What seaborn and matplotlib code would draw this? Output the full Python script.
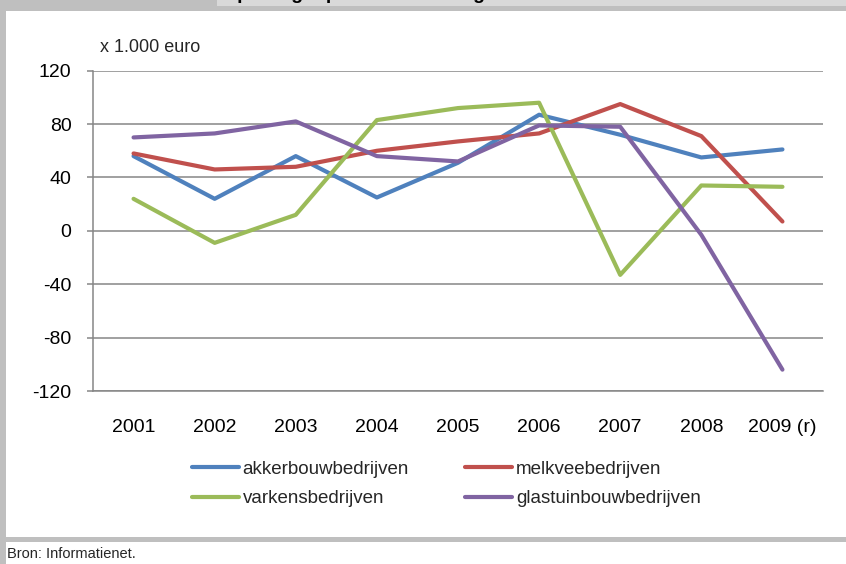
import matplotlib
matplotlib.use("Agg")
import matplotlib.pyplot as plt
import seaborn as sns
import pandas as pd
from matplotlib.patches import Rectangle
from matplotlib.ticker import FixedLocator

# ---- data ----
jaren = ["2001", "2002", "2003", "2004", "2005", "2006", "2007", "2008", "2009 (r)"]
akkerbouw = [56, 24, 56, 25, 51, 87, 72, 55, 61]
melkvee = [58, 46, 48, 60, 67, 73, 95, 71, 7]
varkens = [24, -9, 12, 83, 92, 96, -33, 34, 33]
glastuinbouw = [70, 73, 82, 56, 52, 79, 78, -3, -104]
reeksen = ["akkerbouwbedrijven", "melkveebedrijven", "varkensbedrijven", "glastuinbouwbedrijven"]
y_ticks = [-120, -80, -40, 0, 40, 80, 120]

kleuren = {"akkerbouwbedrijven": "#4F81BD", "melkveebedrijven": "#C0504D",
           "varkensbedrijven": "#9BBB59", "glastuinbouwbedrijven": "#8064A2"}

rows = []
for naam, vals in zip(reeksen, [akkerbouw, melkvee, varkens, glastuinbouw]):
    for j, v in zip(jaren, vals):
        rows.append({"jaar": j, "waarde": v, "reeks": naam})
df = pd.DataFrame(rows)

sns.set_theme(style="white")
plt.rcParams["font.family"] = ["Liberation Sans", "DejaVu Sans"]

W, H = 846, 564
fig = plt.figure(figsize=(W / 100, H / 100), dpi=100)
fig.patch.set_facecolor("white")

def px(x0, y0, w, h):
    return (x0 / W, 1 - (y0 + h) / H, w / W, h / H)

# frame decoration
gray = "#bfbfbf"
for (x0, y0, w, h, c) in [(0, 0, W, 11, gray), (217, 0, W - 217, 6, "#d9d9d9"),
                          (0, 0, 6, H, gray), (0, 537, W, 5, gray)]:
    fig.add_artist(Rectangle((x0 / W, 1 - (y0 + h) / H), w / W, h / H,
                             transform=fig.transFigure, facecolor=c, edgecolor="none", zorder=0))
fig.text(222 / W, 1 + 1 / H, "Opbrengst per onderneming", fontsize=14, fontweight="bold",
         ha="left", va="baseline", color="black")

ax = fig.add_axes(px(93, 70.7, 823 - 93, 391 - 70.7))
ax.set_facecolor("white")

sns.lineplot(data=df, x="jaar", y="waarde", hue="reeks", hue_order=reeksen,
             palette=kleuren, linewidth=3.0, sort=False, ax=ax, legend=True)

ax.set_xlim(-0.5, len(jaren) - 0.5)
ax.set_ylim(min(y_ticks), max(y_ticks))
ax.set_yticks(y_ticks)
ax.set_yticklabels([str(t) for t in y_ticks])
ax.set_xticks(range(len(jaren)))
ax.set_xticklabels(jaren)
ax.xaxis.set_minor_locator(FixedLocator([i - 0.5 for i in range(len(jaren) + 1)]))

gc = "#868686"
ax.yaxis.grid(True, color=gc, linewidth=1.1)
ax.xaxis.grid(False)
ax.set_axisbelow(True)
for s in ["top", "right"]:
    ax.spines[s].set_visible(False)
for s in ["left", "bottom"]:
    ax.spines[s].set_color(gc)
    ax.spines[s].set_linewidth(1.1)

ax.tick_params(axis="x", which="major", length=0, pad=20, labelsize=14, colors="black")
ax.tick_params(axis="x", which="minor", length=4, width=1.1, color=gc, direction="out")
ax.tick_params(axis="y", which="major", length=4.5, width=1.1, color=gc, direction="out",
               pad=11, labelsize=14, labelcolor="black", left=True)
ax.set_xlabel("")
ax.set_ylabel("")

fig.text(100 / W, 1 - 48 / H, "x 1.000 euro", fontsize=13, ha="left", va="center")

handles, labels = ax.get_legend_handles_labels()
ax.get_legend().remove()
order = [0, 2, 1, 3]
leg = fig.legend([handles[i] for i in order], [labels[i] for i in order], ncol=2,
                 loc="center left", bbox_to_anchor=(192 / W, 1 - 484 / H), frameon=False,
                 fontsize=13.5, handlelength=2.5, handletextpad=0.2, columnspacing=3.0,
                 labelspacing=0.65, borderpad=0, borderaxespad=0)
for line in leg.get_lines():
    line.set_linewidth(3.0)

fig.text(7 / W, 1 - 554 / H, "Bron: Informatienet.", fontsize=10.5, ha="left", va="center")

fig.savefig("out.png", dpi=100)
